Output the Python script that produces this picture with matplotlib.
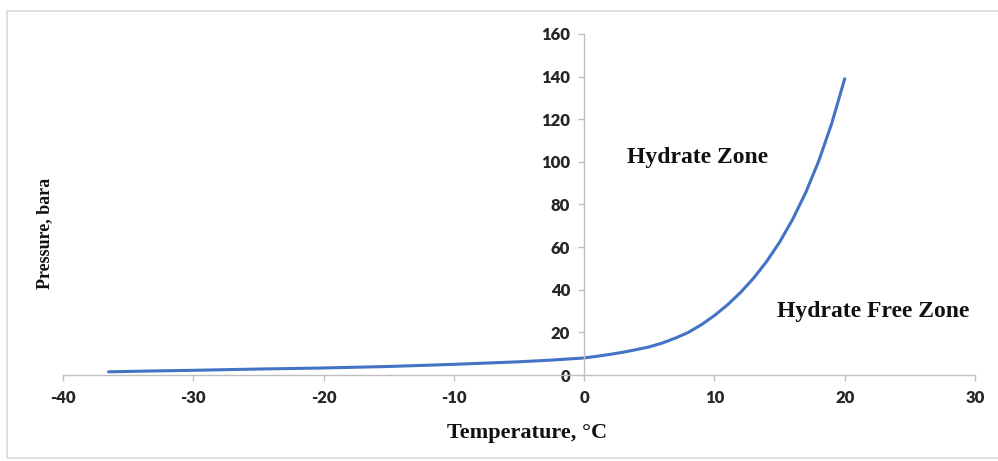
import matplotlib
matplotlib.use("Agg")
from matplotlib import pyplot as plt
from matplotlib.patches import Rectangle

# Hydrate equilibrium curve
temperature = [-36.5, -33, -30, -25, -20, -15, -10, -5, -2.5, 0, 1, 2, 3, 4, 5, 6, 7, 8, 9, 10,
               11, 12, 13, 14, 15, 16, 17, 18, 19, 20]
pressure = [1.5, 1.9, 2.2, 2.8, 3.3, 4.0, 5.0, 6.2, 7.0, 8.0, 8.8, 9.7, 10.7, 11.9, 13.2, 15.0,
            17.3, 20.0, 23.6, 27.9, 32.9, 38.7, 45.4, 53.2, 62.3, 73.0, 85.5, 100.3, 118.0, 139.0]

x_ticks = [-40, -30, -20, -10, 0, 10, 20, 30]
y_ticks = [0, 20, 40, 60, 80, 100, 120, 140, 160]

plt.rcParams['axes.unicode_minus'] = False

serif = ['Liberation Serif', 'DejaVu Serif']
sans = ['Lato', 'DejaVu Sans']
axis_grey = '#bfbfbf'

fig = plt.figure(figsize=(9.98, 4.61), dpi=100)
ax = fig.add_axes([63 / 998, 1 - 375 / 461, (975 - 63) / 998, (375 - 34) / 461])

# Light frame around the chart area
fig.patches.append(Rectangle((7 / 998, 3 / 461), 995 / 998, 447 / 461, transform=fig.transFigure,
                             fill=False, edgecolor='#d9d9d9', linewidth=1.2))

ax.plot(temperature, pressure, color='#4472C4', linewidth=2.2, solid_capstyle='round',
        solid_joinstyle='round')

ax.set_xlim(-40, 30)
ax.set_ylim(0, 160)
ax.set_xticks(x_ticks)
ax.set_yticks(y_ticks)

# Spines cross at the origin, like the Excel chart
ax.spines['left'].set_position(('data', 0))
ax.spines['bottom'].set_position(('data', 0))
ax.spines['top'].set_visible(False)
ax.spines['right'].set_visible(False)
for side in ['left', 'bottom']:
    ax.spines[side].set_color(axis_grey)
    ax.spines[side].set_linewidth(1.0)

ax.tick_params(axis='both', direction='out', length=4, width=1, color=axis_grey, labelsize=12)
ax.tick_params(axis='x', pad=7)
ax.tick_params(axis='y', pad=6)
for lab in ax.get_xticklabels() + ax.get_yticklabels():
    lab.set_family(sans)
    lab.set_fontweight('heavy')
    lab.set_color('#262626')

# Axis titles and zone labels
fig.text(527 / 998, 1 - 433 / 461, 'Temperature, °C', family=serif, fontweight='bold',
         fontsize=16, ha='center', va='center', color='#111111')
fig.text(45 / 998, 1 - 233 / 461, 'Pressure, bara', family=serif, fontweight='bold',
         fontsize=13, ha='center', va='center', rotation=90, color='#111111')
ax.text(3.3, 102, 'Hydrate Zone', family=serif, fontweight='bold', fontsize=17,
        ha='left', va='center', color='#111111')
ax.text(14.8, 30, 'Hydrate Free Zone', family=serif, fontweight='bold', fontsize=17,
        ha='left', va='center', color='#111111')

fig.savefig('out.png', dpi=100)
